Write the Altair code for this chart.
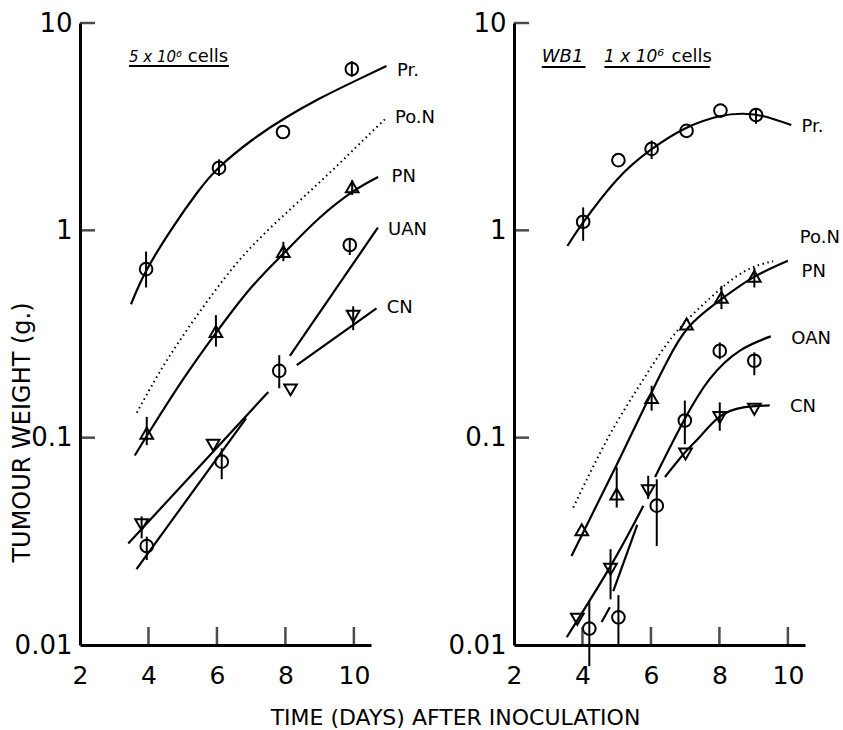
import altair as alt
import pandas as pd

FONT = "DejaVu Sans"
X_DOMAIN = [2, 10.5]
Y_DOMAIN = [0.01, 10]
X_TICKS = [2, 4, 6, 8, 10]
Y_TICKS = [0.01, 0.1, 1, 10]
W, H = 291, 622

# ------------------------------------------------------------------
# LEFT PANEL  (5 x 10^6 cells)
# ------------------------------------------------------------------
# observed points (day, weight g, error-bar low/high)
L_PR_DAY = [3.93, 6.06, 7.93, 9.94]
L_PR_VAL = [0.65, 2.0, 2.98, 6.0]
L_PR_LO = [0.53, 1.83, None, 5.5]
L_PR_HI = [0.79, 2.2, None, 6.55]

L_PN_DAY = [3.95, 5.97, 7.94, 9.95]
L_PN_VAL = [0.105, 0.325, 0.79, 1.62]
L_PN_LO = [0.092, 0.275, 0.71, 1.48]
L_PN_HI = [0.126, 0.39, 0.88, 1.75]

L_UAN_DAY = [3.95, 6.14, 7.82, 9.88]
L_UAN_VAL = [0.030, 0.0766, 0.21, 0.85]
L_UAN_LO = [0.0257, 0.063, 0.173, 0.76]
L_UAN_HI = [0.0333, 0.0888, 0.25, 0.90]

L_CN_DAY = [3.8, 5.89, 8.15, 9.98]
L_CN_VAL = [0.038, 0.092, 0.17, 0.385]
L_CN_LO = [0.0327, None, None, 0.33]
L_CN_HI = [0.0417, None, None, 0.43]

# fitted curves
L_PR_CURVE_DAY = [3.49, 3.95, 4.72, 5.41, 6.06, 7.06, 8.03, 9.0, 9.98, 10.95]
L_PR_CURVE_VAL = [0.44, 0.645, 1.04, 1.51, 2.01, 2.75, 3.51, 4.32, 5.2, 6.2]
L_PON_CURVE_DAY = [3.66, 4.6, 5.9, 7.0, 8.2, 9.3, 10.3, 10.96]
L_PON_CURVE_VAL = [0.132, 0.245, 0.50, 0.83, 1.29, 1.9, 2.75, 3.5]
L_PN_CURVE_DAY = [3.6, 4, 5, 6, 7, 8, 9, 10, 10.71]
L_PN_CURVE_VAL = [0.082, 0.105, 0.19, 0.325, 0.53, 0.79, 1.15, 1.55, 1.81]
L_UAN_CURVE_A_DAY = [3.65, 6.85]
L_UAN_CURVE_A_VAL = [0.0232, 0.124]
L_UAN_CURVE_B_DAY = [8.13, 10.7]
L_UAN_CURVE_B_VAL = [0.248, 1.03]
L_CN_CURVE_A_DAY = [3.41, 7.5]
L_CN_CURVE_A_VAL = [0.0309, 0.166]
L_CN_CURVE_B_DAY = [8.33, 10.66]
L_CN_CURVE_B_VAL = [0.224, 0.42]

L_LABELS = ["Pr.", "Po.N", "PN", "UAN", "CN"]
L_LABEL_DAY = [11.26, 11.2, 11.1, 11.0, 10.96]
L_LABEL_VAL = [5.9, 3.48, 1.81, 1.0, 0.42]

# ------------------------------------------------------------------
# RIGHT PANEL  (WB1, 1 x 10^6 cells)
# ------------------------------------------------------------------
R_PR_DAY = [4.02, 5.05, 6.02, 7.04, 8.03, 9.07]
R_PR_VAL = [1.10, 2.18, 2.47, 3.02, 3.78, 3.6]
R_PR_LO = [0.89, None, 2.21, None, None, 3.26]
R_PR_HI = [1.29, None, 2.71, None, None, 3.87]

R_PN_DAY = [3.98, 5.0, 6.02, 7.04, 8.06, 9.02]
R_PN_VAL = [0.036, 0.0535, 0.156, 0.353, 0.475, 0.60]
R_PN_LO = [None, 0.046, 0.135, None, 0.417, 0.53]
R_PN_HI = [None, 0.072, 0.178, None, 0.54, 0.66]

R_OAN_DAY = [4.2, 5.05, 6.17, 6.99, 8.01, 9.02]
R_OAN_VAL = [0.012, 0.0136, 0.047, 0.121, 0.262, 0.235]
R_OAN_LO = [0.0079, 0.0098, 0.030, 0.093, 0.239, 0.20]
R_OAN_HI = [0.0163, 0.0174, 0.063, 0.151, 0.288, 0.258]

R_CN_DAY = [3.85, 4.82, 5.92, 7.01, 8.01, 9.02]
R_CN_VAL = [0.0133, 0.0232, 0.0555, 0.0834, 0.125, 0.137]
R_CN_LO = [None, 0.0166, 0.0506, None, 0.108, None]
R_CN_HI = [None, 0.029, 0.0655, None, 0.148, None]

R_PR_CURVE_DAY = [3.56, 4, 5, 6, 7, 8, 8.7, 9.3, 10.1]
R_PR_CURVE_VAL = [0.84, 1.08, 1.75, 2.45, 3.1, 3.55, 3.65, 3.55, 3.22]
R_PON_CURVE_DAY = [3.73, 4.75, 5.68, 6.65, 7.72, 8.7, 9.57]
R_PON_CURVE_VAL = [0.046, 0.10, 0.18, 0.31, 0.47, 0.63, 0.71]
R_PN_CURVE_DAY = [3.68, 5.0, 5.97, 6.46, 7.09, 8.06, 8.99, 10.0]
R_PN_CURVE_VAL = [0.0269, 0.074, 0.159, 0.231, 0.34, 0.466, 0.593, 0.713]
R_OAN_CURVE_A_DAY = [4.56, 4.8]
R_OAN_CURVE_A_VAL = [0.0129, 0.0152]
R_OAN_CURVE_B_DAY = [4.9, 5.6]
R_OAN_CURVE_B_VAL = [0.0182, 0.038]
R_OAN_CURVE_C_DAY = [6.12, 6.94, 7.72, 8.6, 9.5]
R_OAN_CURVE_C_VAL = [0.0646, 0.119, 0.192, 0.263, 0.308]
R_CN_CURVE_A_DAY = [3.54, 4.82, 5.78]
R_CN_CURVE_A_VAL = [0.0109, 0.024, 0.0469]
R_CN_CURVE_B_DAY = [6.41, 7.0, 7.43, 8.0, 8.7, 9.47]
R_CN_CURVE_B_VAL = [0.0646, 0.085, 0.101, 0.126, 0.14, 0.143]

R_LABELS = ["Pr.", "Po.N", "PN", "OAN", "CN"]
R_LABEL_DAY = [10.4, 10.35, 10.4, 10.1, 10.06]
R_LABEL_VAL = [3.14, 0.915, 0.63, 0.30, 0.14]

# panel headings (text, italic?, anchor day, anchor weight, font size)
L_HEAD_TEXT = ["5 x 10⁶", "cells"]
L_HEAD_ITALIC = [True, False]
L_HEAD_DAY = [3.43, 5.15]
L_HEAD_VAL = [6.49, 6.49]
L_HEAD_SIZE = [15, 18]
L_ULINE_DAY1 = [3.43]
L_ULINE_DAY2 = [6.35]
L_ULINE_VAL = [6.2]

R_HEAD_TEXT = ["WB1", "1 x 10⁶", "cells"]
R_HEAD_ITALIC = [True, True, False]
R_HEAD_DAY = [2.81, 4.63, 6.6]
R_HEAD_VAL = [6.49, 6.49, 6.49]
R_HEAD_SIZE = [18, 17, 18]
R_ULINE_DAY1 = [2.81, 4.64]
R_ULINE_DAY2 = [4.09, 7.72]
R_ULINE_VAL = [6.13, 6.13]


def points_df(series):
    rows = []
    for name, shape, days, vals, lo, hi in series:
        for d, v, l, h in zip(days, vals, lo, hi):
            rows.append(dict(series=name, shape=shape, day=d, value=v, lo=l, hi=h))
    return pd.DataFrame(rows)


def curves_df(curves):
    rows = []
    for name, style, segs in curves:
        for k, (days, vals) in enumerate(segs):
            for d, v in zip(days, vals):
                rows.append(dict(series=name, seg=f"{name}-{k}", style=style, day=d, value=v))
    return pd.DataFrame(rows)


def make_panel(pts, crv, lab_text, lab_day, lab_val, head_text, head_italic, head_day,
               head_val, head_sizes, ul_d1, ul_d2, ul_v, left):
    x_axis = alt.Axis(
        values=X_TICKS, format="d", tickSize=0, labelPadding=18, labelFontSize=25,
        labelFont=FONT, labelColor="black", labelFlush=False, labelOverlap=False,
        domainColor="black", domainWidth=3, grid=False,
        title="TIME (DAYS) AFTER INOCULATION" if left else None,
        titleX=375, titleY=72, titleFontSize=22, titleFontWeight="normal",
        titleFont=FONT, titleAlign="center", titleBaseline="middle", titleColor="black",
    )
    y_axis = alt.Axis(
        values=Y_TICKS, format="~g", tickSize=0, labelPadding=8, labelFontSize=26,
        labelFont=FONT, labelColor="black", labelFlush=False, labelOverlap=False,
        domainColor="black", domainWidth=3, grid=False,
        title="TUMOUR WEIGHT (g.)" if left else None,
        titleX=-58, titleY=409, titleAngle=270, titleFontSize=24, titleFontWeight="normal",
        titleFont=FONT, titleAlign="center", titleBaseline="middle", titleColor="black",
    )
    xs = alt.Scale(domain=X_DOMAIN, nice=False, zero=False)
    ys = alt.Scale(type="log", domain=Y_DOMAIN, nice=False)

    def X(field="day"):
        return alt.X(f"{field}:Q", scale=xs, axis=x_axis)

    def Y(field="value"):
        return alt.Y(f"{field}:Q", scale=ys, axis=y_axis)

    solid = alt.Chart(crv[crv["style"] == "solid"]).mark_line(
        color="black", strokeWidth=2.2, interpolate="natural"
    ).encode(x=X(), y=Y(), detail="seg:N", order="day:Q")

    dotted = alt.Chart(crv[crv["style"] == "dotted"]).mark_line(
        color="black", strokeWidth=2, strokeDash=[1.5, 3.5], interpolate="natural"
    ).encode(x=X(), y=Y(), detail="seg:N", order="day:Q")

    err = pts.dropna(subset=["lo", "hi"])
    bars = alt.Chart(err).mark_rule(color="black", strokeWidth=2).encode(
        x=X(), y=Y("lo"), y2=alt.Y2("hi:Q")
    )

    marks = alt.Chart(pts).mark_point(
        filled=False, color="black", strokeWidth=2, size=160, opacity=1
    ).encode(x=X(), y=Y(), shape=alt.Shape("shape:N", scale=None))

    lab_df = pd.DataFrame(dict(text=lab_text, day=lab_day, value=lab_val))
    labels = alt.Chart(lab_df).mark_text(
        align="left", baseline="middle", fontSize=18, font=FONT, color="black"
    ).encode(x=X(), y=Y(), text="text:N")

    head_df = pd.DataFrame(dict(text=head_text, italic=head_italic, day=head_day,
                                value=head_val, fs=head_sizes))
    head_it = alt.Chart(head_df[head_df["italic"]]).mark_text(
        align="left", baseline="alphabetic", font=FONT, fontStyle="italic", color="black"
    ).encode(x=X(), y=Y(), text="text:N", size=alt.Size("fs:Q", scale=None, legend=None))
    head_up = alt.Chart(head_df[~head_df["italic"]]).mark_text(
        align="left", baseline="alphabetic", font=FONT, color="black"
    ).encode(x=X(), y=Y(), text="text:N", size=alt.Size("fs:Q", scale=None, legend=None))

    ul_df = pd.DataFrame(dict(d1=ul_d1, d2=ul_d2, value=ul_v))
    uline = alt.Chart(ul_df).mark_rule(color="black", strokeWidth=2).encode(
        x=X("d1"), x2=alt.X2("d2:Q"), y=Y()
    )

    xt_df = pd.DataFrame(dict(day=X_TICKS[1:], value=[Y_DOMAIN[0]] * (len(X_TICKS) - 1)))
    xticks = alt.Chart(xt_df).mark_tick(
        orient="vertical", size=18, thickness=2.5, color="black", yOffset=-9
    ).encode(x=X(), y=Y())

    yt_df = pd.DataFrame(dict(day=[X_DOMAIN[0]] * (len(Y_TICKS) - 1), value=Y_TICKS[1:]))
    yticks = alt.Chart(yt_df).mark_tick(
        orient="horizontal", size=15, thickness=2.5, color="black", xOffset=7.5
    ).encode(x=X(), y=Y())

    return alt.layer(
        solid, dotted, bars, marks, labels, head_it, head_up, uline, xticks, yticks
    ).properties(width=W, height=H)


left_pts = points_df([
    ("Pr.", "circle", L_PR_DAY, L_PR_VAL, L_PR_LO, L_PR_HI),
    ("PN", "triangle-up", L_PN_DAY, L_PN_VAL, L_PN_LO, L_PN_HI),
    ("UAN", "circle", L_UAN_DAY, L_UAN_VAL, L_UAN_LO, L_UAN_HI),
    ("CN", "triangle-down", L_CN_DAY, L_CN_VAL, L_CN_LO, L_CN_HI),
])
left_crv = curves_df([
    ("Pr.", "solid", [(L_PR_CURVE_DAY, L_PR_CURVE_VAL)]),
    ("Po.N", "dotted", [(L_PON_CURVE_DAY, L_PON_CURVE_VAL)]),
    ("PN", "solid", [(L_PN_CURVE_DAY, L_PN_CURVE_VAL)]),
    ("UAN", "solid", [(L_UAN_CURVE_A_DAY, L_UAN_CURVE_A_VAL), (L_UAN_CURVE_B_DAY, L_UAN_CURVE_B_VAL)]),
    ("CN", "solid", [(L_CN_CURVE_A_DAY, L_CN_CURVE_A_VAL), (L_CN_CURVE_B_DAY, L_CN_CURVE_B_VAL)]),
])

right_pts = points_df([
    ("Pr.", "circle", R_PR_DAY, R_PR_VAL, R_PR_LO, R_PR_HI),
    ("PN", "triangle-up", R_PN_DAY, R_PN_VAL, R_PN_LO, R_PN_HI),
    ("OAN", "circle", R_OAN_DAY, R_OAN_VAL, R_OAN_LO, R_OAN_HI),
    ("CN", "triangle-down", R_CN_DAY, R_CN_VAL, R_CN_LO, R_CN_HI),
])
right_crv = curves_df([
    ("Pr.", "solid", [(R_PR_CURVE_DAY, R_PR_CURVE_VAL)]),
    ("Po.N", "dotted", [(R_PON_CURVE_DAY, R_PON_CURVE_VAL)]),
    ("PN", "solid", [(R_PN_CURVE_DAY, R_PN_CURVE_VAL)]),
    ("OAN", "solid", [(R_OAN_CURVE_A_DAY, R_OAN_CURVE_A_VAL), (R_OAN_CURVE_B_DAY, R_OAN_CURVE_B_VAL),
                      (R_OAN_CURVE_C_DAY, R_OAN_CURVE_C_VAL)]),
    ("CN", "solid", [(R_CN_CURVE_A_DAY, R_CN_CURVE_A_VAL), (R_CN_CURVE_B_DAY, R_CN_CURVE_B_VAL)]),
])

left = make_panel(left_pts, left_crv, L_LABELS, L_LABEL_DAY, L_LABEL_VAL,
                  L_HEAD_TEXT, L_HEAD_ITALIC, L_HEAD_DAY, L_HEAD_VAL, L_HEAD_SIZE,
                  L_ULINE_DAY1, L_ULINE_DAY2, L_ULINE_VAL, left=True)
right = make_panel(right_pts, right_crv, R_LABELS, R_LABEL_DAY, R_LABEL_VAL,
                   R_HEAD_TEXT, R_HEAD_ITALIC, R_HEAD_DAY, R_HEAD_VAL, R_HEAD_SIZE,
                   R_ULINE_DAY1, R_ULINE_DAY2, R_ULINE_VAL, left=False)

chart = alt.hconcat(left, right, spacing=143, bounds="flush").properties(
    padding={"left": 10, "top": 10, "right": 0, "bottom": 0},
    background="white",
).configure_view(stroke=None)

chart.save("out.html", embed_options={"renderer": "svg", "actions": False})
